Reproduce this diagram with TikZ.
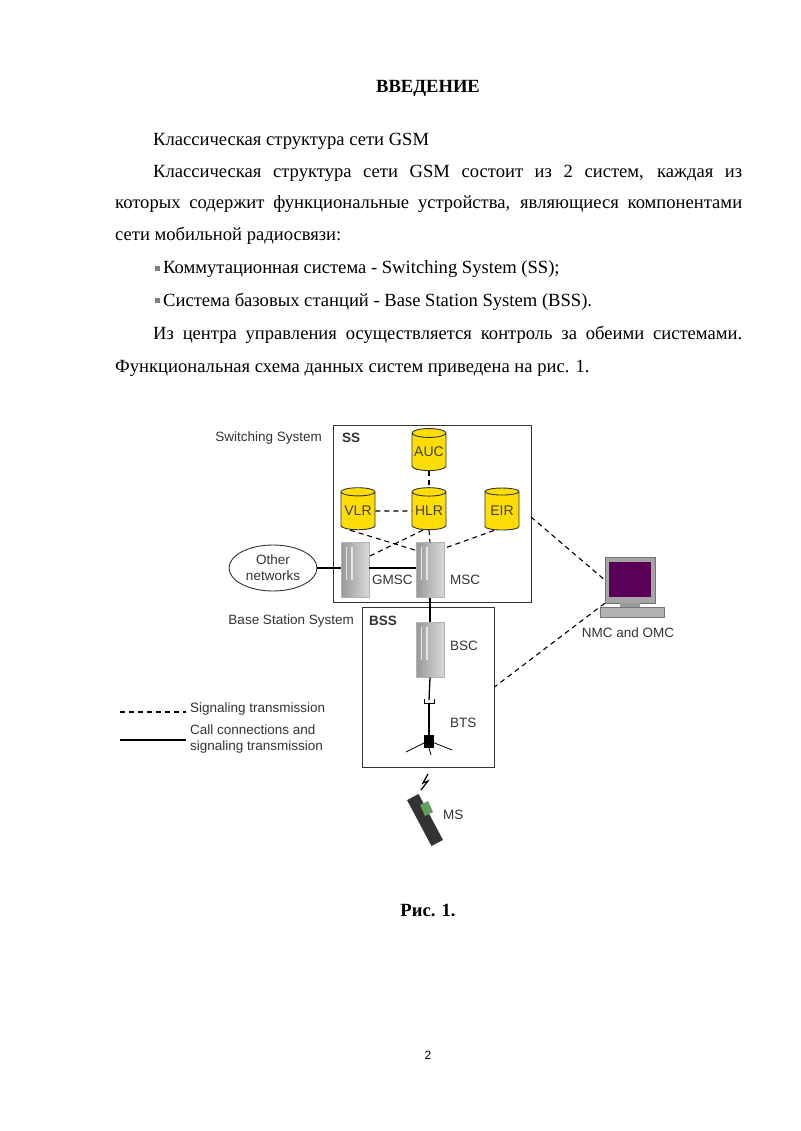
\documentclass[tikz,border=0pt]{standalone}
\usepackage{fontspec}
\setmainfont{Liberation Serif}
\newfontfamily\dsans{Liberation Sans}
\usetikzlibrary{shapes.geometric}
\begin{document}
\begin{tikzpicture}[x=1pt,y=-1pt,
  body/.style={anchor=base west,inner sep=0,font=\fontsize{18.6}{22}\selectfont},
  dlab/.style={inner sep=0,font=\dsans\fontsize{13.5}{16}\selectfont,text=black!80},
  db/.style={draw=black!80,line width=0.9pt,fill=yellow!80!orange,cylinder,shape border rotate=90,aspect=0.3,minimum width=34pt,minimum height=42pt,inner sep=0,font=\dsans\fontsize{14}{16}\selectfont,text=black!75},
  srv/.style={draw=black!30,left color=black!40,right color=black!15,minimum width=28pt,minimum height=55pt,inner sep=0},
  sig/.style={dashed,dash pattern=on 5pt off 4pt,line width=1.1pt},
  call/.style={line width=1.3pt},
  sysbox/.style={draw=black!80,line width=0.9pt}]
\useasboundingbox (0,0) rectangle (800,1131);
% text
\node[inner sep=0,font=\bfseries\fontsize{18.6}{22}\selectfont] (title) at (428,88) {ВВЕДЕНИЕ};
\node[body] (l0) at (153,146) {Классическая структура сети GSM};
\node[body] (l1) at (153,178) {\makebox[589pt][s]{Классическая структура сети GSM состоит из 2 систем, каждая из}};
\node[body] (l2) at (115,209) {\makebox[627pt][s]{которых содержит функциональные устройства, являющиеся компонентами}};
\node[body] (l3) at (115,241) {сети мобильной радиосвязи:};
\fill[black!50] (155,266) rectangle (160,271);
\fill[black!50] (155,298) rectangle (160,303);
\node[body] (b1) at (163,274) {Коммутационная система - Switching System (SS);};
\node[body] (b2) at (163,306) {Система базовых станций - Base Station System (BSS).};
\node[body] (l4) at (153,339) {\makebox[589pt][s]{Из центра управления осуществляется контроль за обеими системами.}};
\node[body] (l5) at (115,372) {Функциональная схема данных систем приведена на рис. 1.};
\node[inner sep=0,font=\bfseries\fontsize{18.6}{22}\selectfont] (cap) at (428,910) {Рис. 1.};
\node[inner sep=0,font=\dsans\fontsize{12}{14}\selectfont] (pg) at (428,1055) {2};
% diagram boxes
\node[sysbox,minimum width=198pt,minimum height=177pt,inner sep=0] (ss) at (432,513.5) {};
\node[sysbox,minimum width=132pt,minimum height=160pt,inner sep=0] (bss) at (428,687) {};
\node[dlab,anchor=east] (ssname) at (322,438) {Switching System};
\node[dlab,anchor=west,font=\dsans\bfseries\fontsize{13.5}{16}\selectfont] (sslab) at (342,438) {SS};
\node[dlab,anchor=east] (bssname) at (354,621) {Base Station System};
\node[dlab,anchor=west,font=\dsans\bfseries\fontsize{13.5}{16}\selectfont] (bsslab) at (369,621) {BSS};
% databases
\node[db] (auc) at (429,452) {AUC};
\node[db] (vlr) at (358,511) {VLR};
\node[db] (hlr) at (429,511) {HLR};
\node[db] (eir) at (502,511) {EIR};
% servers
\node[srv] (gmsc) at (355,570) {};
\node[srv] (msc) at (430,570) {};
\node[srv] (bsc) at (430,650) {};
\foreach \s in {gmsc,msc,bsc}{
 \draw[black!10,line width=1.2pt] ([xshift=6pt,yshift=-5pt]\s.north west) -- ([xshift=6pt,yshift=-10pt]\s.west);
 \draw[black!10,line width=1.2pt] ([xshift=-3pt,yshift=-5pt]\s.north) -- ([xshift=-3pt,yshift=-10pt]\s.center);}
\node[dlab,anchor=west] (gmsclab) at (372,580) {GMSC};
\node[dlab,anchor=west] (msclab) at (450,580) {MSC};
\node[dlab,anchor=west] (bsclab) at (450,646) {BSC};
\node[dlab,anchor=west] (btslab) at (450,723) {BTS};
\node[draw=black!80,line width=0.9pt,ellipse,minimum width=88pt,minimum height=46pt,inner sep=0,dlab,align=center] (other) at (273,568) {Other\\networks};
% BTS antenna
\coordinate (bts) at (429,700);
\draw[line width=1pt] (424,699) -- (424,703) -- (434,703) -- (434,699);
\draw[line width=1.3pt] (429,703) -- (429,740);
\fill (424,735) rectangle (434,748);
\draw[line width=0.8pt] (426,742) -- (406,752) (432,742) -- (452,750) (429,748) -- (431,755);
% computer
\node[inner sep=0,minimum width=50pt,minimum height=46pt,fill=black!35,draw=black!55] (nmc) at (630,580) {};
\fill[violet!70!black] (609,562) rectangle (651,597);
\fill[black!40] (620,603) rectangle (640,608);
\draw[black!55,fill=black!30] (600,607) rectangle (664,617);
\node[dlab,anchor=north] (nmclab) at (628,628) {NMC and OMC};
% MS phone
\node[inner sep=0,minimum width=13pt,minimum height=52pt,fill=black!80,rotate=28] (ms) at (425,820) {};
\fill[green!25!gray] (420,805) -- (428,801) -- (433,812) -- (425,816) -- cycle;
\node[dlab,anchor=west] (mslab) at (443,815) {MS};
\draw[line width=1.2pt] (428,774) -- (423,783) -- (428,781) -- (421,790);
% connectors
\draw[call] (other.east) -- (gmsc.west |- other.east);
\draw[call] (gmsc.east |- other.east) -- (msc.west |- other.east);
\draw[call] (msc.south) -- (bsc.north);
\draw[call] (bsc.south) -- (bts);
\draw[sig] (vlr.east) -- (hlr.west);
\draw[sig] (auc.bottom) -- (hlr.top);
\draw[sig] (hlr.bottom) -- (msc.north);
\draw[sig] ([xshift=-8pt]vlr.bottom) -- ([yshift=-8pt]msc.north west);
\draw[sig] ([xshift=-6pt]hlr.bottom) -- ([yshift=-14pt]gmsc.north east);
\draw[sig] ([xshift=-8pt]eir.bottom) -- ([yshift=-6pt]msc.north east);
\draw[sig] (531,517) -- (nmc.west);
\draw[sig] (nmc.south west) -- (bss.east);
% legend
\coordinate (ld1) at (120,712); \coordinate (ld2) at (186,712);
\coordinate (ls1) at (120,740); \coordinate (ls2) at (186,740);
\draw[sig] (ld1) -- (ld2);
\draw[call] (ls1) -- (ls2);
\node[dlab,anchor=west] (leg1) at (190,709) {Signaling transmission};
\node[dlab,anchor=north west,align=left] (leg2) at (190,725) {Call connections and\\signaling transmission};
\end{tikzpicture}
\end{document}
